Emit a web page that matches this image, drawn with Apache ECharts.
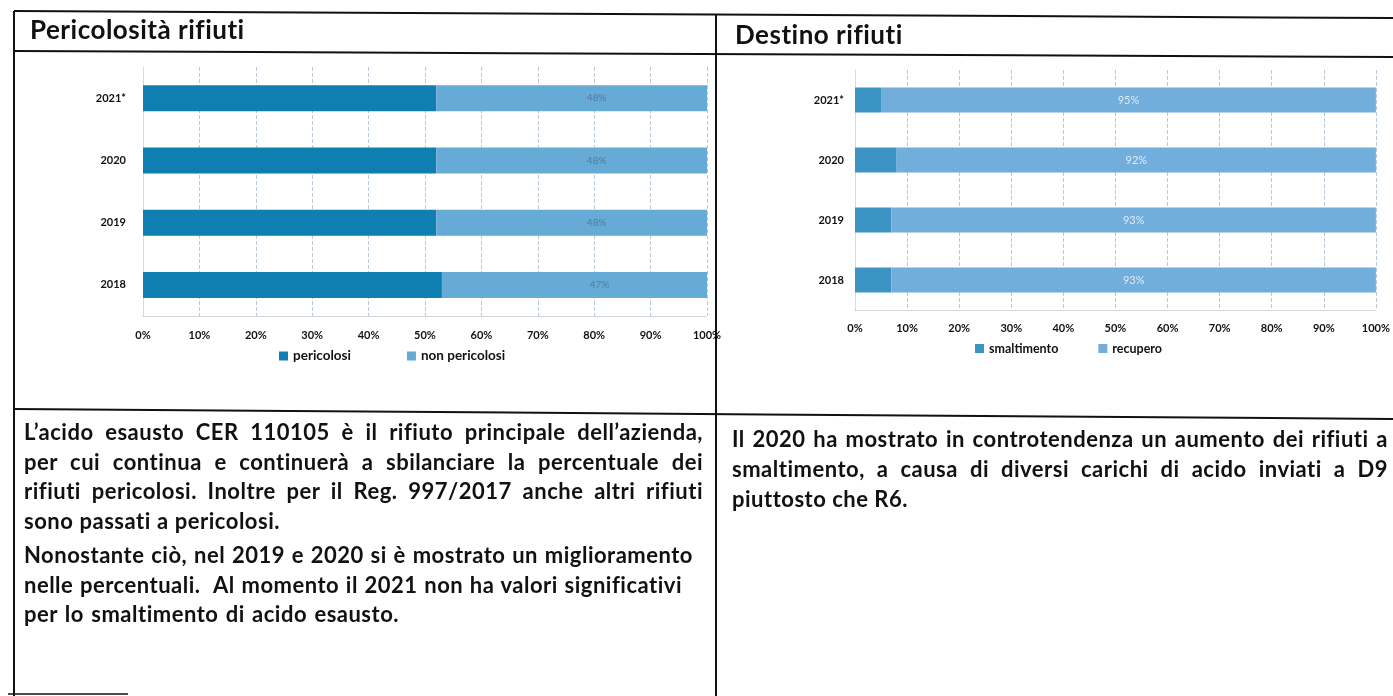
<!DOCTYPE html>
<html>
<head>
<meta charset="utf-8">
<script src="https://cdn.jsdelivr.net/npm/echarts@6/dist/echarts.min.js"></script>
<style>
	body { margin: 0; width: 1393px; height: 696px; overflow: hidden; background: #fff; font-family: Lato, "Noto Sans", sans-serif; color: #111; }
	#chart { position: absolute; left: 0; top: 0; width: 1393px; height: 696px; }
	.title { position: absolute; font-size: 26px; font-weight: 700; letter-spacing: 0.5px; white-space: nowrap; }
	.para { position: absolute; font-size: 22px; font-weight: 700; letter-spacing: 0.5px; line-height: 29.5px; }
	.para div { text-align: justify; text-align-last: justify; white-space: nowrap; overflow: visible; }
	svg { position: absolute; left: 0; top: 0; }
</style>
</head>
<body>
<div id="chart"></div>

<div class="title" style="left:30px; top:13px;">Pericolosità rifiuti</div>
<div class="title" style="left:735px; top:18px;">Destino rifiuti</div>

<div class="para" style="left:24px; top:417px;">
	<div style="width:679px">L’acido esausto CER 110105 è il rifiuto principale dell’azienda,</div>
	<div style="width:679px">per cui continua e continuerà a sbilanciare la percentuale dei</div>
	<div style="width:679px">rifiuti pericolosi. Inoltre per il Reg. 997/2017 anche altri rifiuti</div>
	<div style="width:256px">sono passati a pericolosi.</div>
	<div style="width:669px; margin-top:5px">Nonostante ciò, nel 2019 e 2020 si è mostrato un miglioramento</div>
	<div style="width:658px">nelle percentuali.&nbsp; Al momento il 2021 non ha valori significativi</div>
	<div style="width:375px">per lo smaltimento di acido esausto.</div>
</div>
<div class="para" style="left:732px; top:424px; line-height:30px;">
	<div style="width:656px">Il 2020 ha mostrato in controtendenza un aumento dei rifiuti a</div>
	<div style="width:656px">smaltimento, a causa di diversi carichi di acido inviati a D9</div>
	<div style="width:173px">piuttosto che R6.</div>
</div>

<svg width="1393" height="696">
	<g stroke="#111" stroke-width="2" fill="none">
		<line x1="14" y1="11" x2="1393" y2="18" />
		<line x1="14" y1="51" x2="1393" y2="57" />
		<line x1="14" y1="409" x2="1393" y2="419" />
		<line x1="14" y1="11" x2="14" y2="696" />
		<line x1="716" y1="14" x2="716" y2="696" />
		<line x1="8" y1="694" x2="128" y2="694" stroke-width="1.5" />
	</g>
</svg>

<script>
	var years = ['2021*', '2020', '2019', '2018'];
	var pericolosi = [52, 52, 52, 53];
	var nonPericolosi = [48, 48, 48, 47];
	var smaltimento = [5, 8, 7, 7];
	var recupero = [95, 92, 93, 93];
	var pctTicks = ['0%', '10%', '20%', '30%', '40%', '50%', '60%', '70%', '80%', '90%', '100%'];

	var chart = echarts.init(document.getElementById('chart'));
	var font = 'Lato, "Noto Sans", sans-serif';

	function xAx(idx) {
		return {
			type: 'value', gridIndex: idx, min: 0, max: 100, interval: 10,
			axisLine: { show: true, lineStyle: { color: '#c8ced6', type: 'dotted' } },
			axisTick: { show: false },
			splitLine: { lineStyle: { color: '#b9c9d8', type: 'dashed' } },
			axisLabel: {
				margin: idx === 0 ? 14 : 13, color: '#111', fontSize: 11, fontWeight: 'bold', fontFamily: font,
				formatter: function (v) { return pctTicks[v / 10]; }
			}
		};
	}
	function yAx(idx) {
		return {
			type: 'category', gridIndex: idx, data: years, inverse: true,
			axisLine: { show: true, lineStyle: { color: '#d5dbe2' } },
			axisTick: { show: false },
			axisLabel: { margin: idx === 0 ? 17 : 11, color: '#111', fontSize: 11, fontWeight: 'bold', fontFamily: font }
		};
	}

	chart.setOption({
		animation: false,
		grid: [
			{ left: 143, width: 564, top: 67, height: 249 },
			{ left: 855, width: 523, top: 70, height: 240 }
		],
		xAxis: [xAx(0), xAx(1)],
		yAxis: [yAx(0), yAx(1)],
		legend: [
			{
				left: 274, top: 344, itemWidth: 9, itemHeight: 9, itemGap: 56, icon: 'rect',
				textStyle: { fontSize: 13.5, fontWeight: 'bold', color: '#111', fontFamily: font },
				data: ['pericolosi', 'non pericolosi']
			},
			{
				left: 970, top: 337, itemWidth: 9, itemHeight: 9, itemGap: 40, icon: 'rect',
				textStyle: { fontSize: 12.5, fontWeight: 'bold', color: '#111', fontFamily: font },
				data: ['smaltimento', 'recupero']
			}
		],
		series: [
			{
				name: 'pericolosi', type: 'bar', stack: 'a', xAxisIndex: 0, yAxisIndex: 0,
				barWidth: 26, data: pericolosi, itemStyle: { color: '#0f7eb1' }
			},
			{
				name: 'non pericolosi', type: 'bar', stack: 'a', xAxisIndex: 0, yAxisIndex: 0,
				barWidth: 26, data: nonPericolosi, itemStyle: { color: '#66aad6' },
				label: { show: true, formatter: '{c}%', color: 'rgba(40,40,40,0.35)', fontSize: 10, fontFamily: font, offset: [25, 0] }
			},
			{
				name: 'smaltimento', type: 'bar', stack: 'b', xAxisIndex: 1, yAxisIndex: 1,
				barWidth: 25, data: smaltimento, itemStyle: { color: '#3b94c3' }
			},
			{
				name: 'recupero', type: 'bar', stack: 'b', xAxisIndex: 1, yAxisIndex: 1,
				barWidth: 25, data: recupero, itemStyle: { color: '#72aedb' },
				label: { show: true, formatter: '{c}%', color: 'rgba(255,255,255,0.75)', fontSize: 11, fontFamily: font }
			}
		]
	});
</script>
</body>
</html>
